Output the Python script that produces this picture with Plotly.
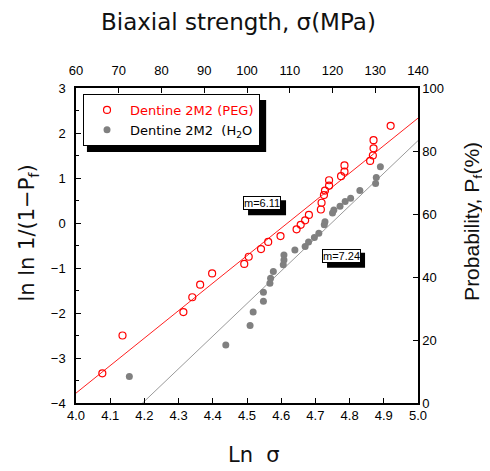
import plotly.graph_objects as go

# ---- data ----
red_x = [4.077, 4.136, 4.314, 4.340, 4.363, 4.398, 4.492, 4.505, 4.541, 4.562,
         4.598, 4.645, 4.657, 4.670, 4.681, 4.716, 4.718, 4.725, 4.728, 4.740,
         4.740, 4.775, 4.785, 4.785, 4.860, 4.868, 4.870, 4.870, 4.920]
red_y = [-3.34, -2.50, -1.98, -1.65, -1.37, -1.12, -0.91, -0.75, -0.58, -0.42,
         -0.29, -0.14, -0.04, 0.06, 0.18, 0.30, 0.45, 0.62, 0.72, 0.83,
         0.95, 1.04, 1.14, 1.28, 1.38, 1.50, 1.66, 1.84, 2.16]

grey_x = [4.156, 4.438, 4.509, 4.518, 4.548, 4.548, 4.567, 4.569, 4.577, 4.606,
          4.608, 4.608, 4.640, 4.670, 4.680, 4.697, 4.710, 4.726, 4.728, 4.750,
          4.754, 4.772, 4.787, 4.803, 4.830, 4.876, 4.878, 4.890]
grey_y = [-3.41, -2.71, -2.28, -1.98, -1.74, -1.54, -1.34, -1.23, -1.08, -0.93,
          -0.82, -0.71, -0.60, -0.52, -0.42, -0.32, -0.23, -0.04, 0.03, 0.22,
          0.29, 0.37, 0.48, 0.55, 0.72, 0.88, 1.01, 1.25]

red_slope, red_intercept = 6.11, -28.22
grey_slope, grey_intercept = 7.24, -34.37

x_range = [4.0, 5.0]
y_range = [-4, 3]
top_range = [60, 140]
right_range = [0, 100]

red_name = "Dentine 2M2 (PEG)"
grey_name = "Dentine 2M2  (H<sub>2</sub>O"
red_label = "m=6.11"
grey_label = "m=7.24"
label_pos = [(red_label, 4.544, 0.44), (grey_label, 4.775, -0.73)]

FONT = "Arial, Liberation Sans, sans-serif"
WIDE = "DejaVu Sans, sans-serif"

fig = go.Figure()

line_x = list(x_range)
fig.add_trace(go.Scatter(x=line_x, y=[red_slope * v + red_intercept for v in line_x],
                         mode="lines", line=dict(color="#ff2020", width=1),
                         showlegend=False, hoverinfo="skip"))
fig.add_trace(go.Scatter(x=line_x, y=[grey_slope * v + grey_intercept for v in line_x],
                         mode="lines", line=dict(color="#9a9a9a", width=1),
                         showlegend=False, hoverinfo="skip"))

fig.add_trace(go.Scatter(x=red_x, y=red_y, mode="markers", legendgroup="a",
                         name="<span style='color:#ff0000'>" + red_name + "</span>",
                         marker=dict(symbol="circle-open", size=7, color="#ff0000",
                                     line=dict(width=1.2, color="#ff0000"))))
fig.add_trace(go.Scatter(x=grey_x, y=grey_y, mode="markers", legendgroup="b",
                         name=grey_name,
                         marker=dict(symbol="circle", size=7, color="#808080")))

axis_common = dict(showline=True, linecolor="black", linewidth=1.5,
                   ticks="inside", ticklen=5, tickcolor="black", tickwidth=1,
                   showgrid=False, zeroline=False,
                   tickfont=dict(family=FONT, size=13, color="black"))

fig.update_layout(
    width=490, height=471,
    margin=dict(l=68, r=80, t=80, b=76),
    paper_bgcolor="white", plot_bgcolor="white",
    font=dict(family=FONT, color="black"),
    xaxis=dict(range=x_range, dtick=0.1, tick0=4.0, tickformat=".1f", **axis_common),
    xaxis2=dict(range=top_range, dtick=10, tick0=60, overlaying="x", side="top",
                anchor="y", ticklabelstandoff=6, **axis_common),
    yaxis=dict(range=y_range, dtick=1, tick0=-4, ticklabelstandoff=6,
               minor=dict(ticks="inside", ticklen=3, dtick=0.5, tickcolor="black"),
               **axis_common),
    yaxis2=dict(range=right_range, dtick=20, tick0=0, overlaying="y", side="right",
                anchor="x", **axis_common),
    showlegend=True,
    legend=dict(x=0.0205, y=0.981, xanchor="left", yanchor="top",
                bgcolor="white", bordercolor="black", borderwidth=1,
                font=dict(family=WIDE, size=13, color="black"),
                tracegroupgap=0, itemwidth=36),
)

# invisible trace to activate secondary axes
fig.add_trace(go.Scatter(x=top_range, y=right_range, xaxis="x2", yaxis="y2",
                         mode="markers", marker=dict(opacity=0), showlegend=False,
                         hoverinfo="skip"))

# legend shadow
fig.add_shape(type="rect", xref="paper", yref="paper",
              x0=0.032, x1=0.556, y0=0.797, y1=0.962,
              fillcolor="black", line=dict(width=0), layer="above")

# slope labels with shadows
for lab, xc, yc in label_pos:
    fig.add_shape(type="rect", xref="x", yref="y",
                  xsizemode="pixel", ysizemode="pixel", xanchor=xc, yanchor=yc,
                  x0=-14, x1=24, y0=-12, y1=3,
                  fillcolor="black", line=dict(width=0), layer="above")
    fig.add_annotation(x=xc, y=yc, text=lab, showarrow=False,
                       font=dict(family=FONT, size=11, color="black"),
                       bgcolor="white", bordercolor="black", borderwidth=1, borderpad=0)

# axis titles
fig.add_annotation(xref="paper", yref="paper", x=0.474, y=1, yshift=66,
                   xanchor="center", yanchor="middle",
                   text="Biaxial strength, σ(MPa)", showarrow=False,
                   font=dict(family=WIDE, size=23, color="#111"))
fig.add_annotation(xref="paper", yref="paper", x=0.52, y=0, yshift=-52,
                   xanchor="center", yanchor="middle",
                   text="Ln  σ", showarrow=False,
                   font=dict(family=WIDE, size=21, color="#111"))
fig.add_annotation(xref="paper", yref="paper", x=0, y=0.538, xshift=-48,
                   xanchor="center", yanchor="middle",
                   text="ln ln 1/(1−P<sub>f</sub>)", showarrow=False, textangle=-90,
                   font=dict(family=WIDE, size=21, color="#111"))
fig.add_annotation(xref="paper", yref="paper", x=1, y=0.575, xshift=55,
                   xanchor="center", yanchor="middle",
                   text="Probability, P<sub>f</sub>(%)", showarrow=False, textangle=-90,
                   font=dict(family=FONT, size=21, color="#111"))

fig.write_html("out.html")
